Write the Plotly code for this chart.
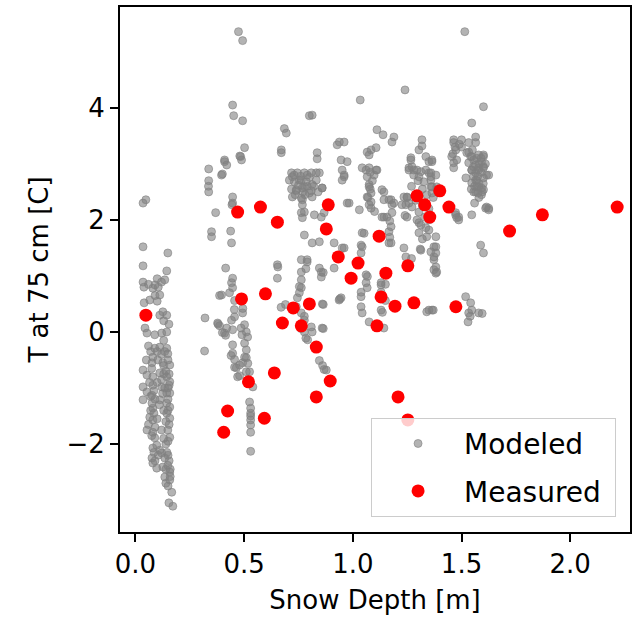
import plotly.graph_objects as go

# Measured (red) points: snow depth [m], temperature at 75 cm [C]
measured_depth = [0.048, 0.470, 0.575, 0.653, 0.488, 0.598, 0.520, 0.424, 0.406, 0.593,
                  0.639, 0.676, 0.726, 0.763, 0.800, 0.832, 0.832, 0.896, 0.887, 0.878,
                  0.933, 0.992, 1.024, 1.111, 1.130, 1.121, 1.152, 1.194, 1.208, 1.253,
                  1.253, 1.281, 1.295, 1.331, 1.354, 1.400, 1.442, 1.474, 1.721, 1.872, 2.216]
measured_temp = [0.30, 2.14, 2.23, 1.96, 0.59, 0.68, -0.89, -1.41, -1.79, -1.54,
                 -0.73, 0.16, 0.43, 0.11, 0.50, -0.27, -1.16, -0.875, 2.27, 1.84,
                 1.34, 0.96, 1.23, 0.11, 0.625, 1.71, 1.05, 0.46, -1.16, -1.57,
                 1.18, 0.52, 2.43, 2.27, 2.05, 2.52, 2.23, 0.45, 1.80, 2.09, 2.23]

# Modeled (gray) points, read cluster by cluster
modeled_pairs_a = [
    (0.035,2.30),(0.048,2.36),(0.035,1.52),(0.149,1.41),(0.035,1.18),(0.144,1.09),(0.135,0.93),
    (0.035,0.89),(0.039,0.80),(0.08,0.78),(0.12,0.89),(0.09,0.84),(0.105,0.80),(0.112,0.66),
    (0.066,0.57),(0.04,0.52),(0.126,0.36),(0.112,0.30),(0.144,0.30),(0.154,0.14),(0.044,0.07),
    (0.053,-0.02),(0.089,-0.05),(0.121,-0.02),(0.144,0.0),(0.089,-0.29),(0.112,-0.27),(0.144,-0.29),
    (0.080,-0.45),(0.149,-0.39),(0.076,-0.55),(0.103,-0.50),(0.126,-0.55),(0.158,-0.59),(0.035,-0.68),
    (0.053,-0.77),(0.08,-0.80),(0.112,-0.73),(0.144,-0.80),(0.158,-0.89),(0.035,-0.98),(0.053,-1.07),
    (0.08,-0.95),(0.076,-1.13),(0.121,-0.98),(0.144,-1.09),(0.158,-1.09),(0.035,-1.21),(0.076,-1.27),
    (0.08,-1.36),(0.112,-1.21),(0.144,-1.27),(0.158,-1.34),(0.066,-1.52),(0.08,-1.57),(0.144,-1.45),
    (0.158,-1.54),(0.053,-1.75),(0.08,-1.79),(0.149,-1.75),(0.158,-1.88),(0.089,-1.89),(0.098,-2.02),
    (0.08,-2.07),(0.112,-2.11),(0.121,-2.16),(0.135,-2.25),(0.076,-2.25),(0.08,-2.34),(0.098,-2.43),
    (0.126,-2.41),(0.149,-2.38),(0.158,-2.50),(0.135,-2.59),(0.158,-2.64),(0.167,-2.86),(0.154,-3.05),
    (0.172,-3.11),(0.065,-0.9),(0.07,-1.4),(0.06,-1.65),(0.13,-0.6),(0.135,-1.0),(0.13,-1.4),
    (0.14,-1.6),(0.13,-1.9),(0.14,-2.0),(0.15,-2.2),(0.12,-0.4),(0.14,-0.7),(0.15,-1.2),(0.1,-0.9),
    (0.09,-1.7),(0.06,0.85),(0.1,0.55),(0.13,-0.15),(0.1,-0.35),(0.12,-0.85),(0.155,-0.95),
    (0.09,-1.2),(0.085,-2.15),(0.14,-2.7),(0.16,-2.45),
    (0.07,-0.35),(0.075,-0.65),(0.085,-1.05),(0.07,-1.15),(0.085,-1.45),(0.075,-1.85),(0.09,-2.3),
    (0.105,-2.2),(0.11,-1.3),(0.1,-1.55),(0.12,-1.75),(0.125,-1.1),(0.13,-0.75),(0.135,-0.35),
    (0.15,-0.5),(0.155,-0.75),(0.15,-1.0),(0.15,-1.4),(0.155,-1.65),(0.15,-1.95),(0.145,-2.15),
    (0.155,-2.3),(0.14,-2.45),(0.16,-2.58),(0.15,-2.75),(0.06,-0.25),(0.05,-0.5),(0.09,0.65),
    (0.1,0.95),(0.13,0.2),
]
modeled_pairs_b = [
    (0.474,5.36),(0.493,5.20),(0.447,4.05),(0.452,3.86),(0.493,3.77),(0.502,3.29),(0.484,3.13),
    (0.488,3.07),(0.41,3.04),(0.42,2.98),(0.337,2.91),(0.337,2.70),(0.337,2.50),(0.396,2.80),
    (0.447,2.41),(0.447,2.30),(0.369,2.13),(0.35,1.79),(0.35,1.70),(0.438,1.80),(0.442,1.59),
    (0.415,1.14),(0.447,0.96),(0.442,0.88),(0.447,0.79),(0.396,0.66),(0.433,0.70),(0.32,0.25),
    (0.378,0.16),(0.41,-0.02),(0.442,0.21),(0.456,0.27),(0.447,0.04),(0.42,0.07),(0.493,0.34),
    (0.502,0.13),(0.51,0.0),(0.516,-0.09),(0.318,-0.34),(0.447,-0.23),(0.447,-0.38),(0.502,-0.2),
    (0.51,-0.32),(0.502,-0.45),(0.456,-0.63),(0.479,-0.59),(0.493,-0.55),(0.525,-0.71),(0.47,-0.80),
    (0.54,-0.98),(0.53,-1.36),(0.53,-1.45),(0.53,-1.57),(0.53,-1.66),(0.53,-1.79),(0.53,-2.13),
    (0.456,0.56),(0.494,0.42),(0.486,0.07),(0.44,-0.42),(0.456,-0.49),(0.51,-0.46),(0.517,-0.56),
    (0.464,-0.64),(0.479,-0.78),(0.51,-0.71),(0.525,-0.88),(0.38,0.14),(0.387,0.11),(0.40,-0.01),
    (0.415,-0.06),(0.387,0.65),(0.444,2.27),(0.41,3.07),(0.40,2.82),(0.48,3.14),(0.336,2.6),
    (0.53,-1.5),(0.525,-1.25),(0.455,0.4),(0.49,-0.05),
    (0.685,3.63),(0.694,3.55),(0.671,3.25),(0.671,3.20),(0.653,1.20),(0.653,0.96),(0.655,1.16),
    (0.69,0.49),(0.67,0.44),(0.74,0.45),(0.763,0.34),
]
modeled_pairs_c = [
    (0.80,3.86),(0.813,3.87),(0.836,3.2),(0.836,3.09),(0.718,2.84),(0.745,2.84),(0.777,2.84),
    (0.809,2.84),(0.846,2.84),(0.708,2.71),(0.731,2.68),(0.763,2.71),(0.786,2.68),(0.832,2.71),
    (0.718,2.55),(0.74,2.52),(0.768,2.57),(0.809,2.52),(0.859,2.57),(0.722,2.41),(0.763,2.39),
    (0.8,2.48),(0.813,2.41),(0.768,2.27),(0.777,2.14),(0.823,2.09),(0.855,2.05),(0.768,2.04),
    (0.777,1.73),(0.813,1.59),(0.914,1.59),(0.763,1.29),(0.79,1.29),(0.846,1.14),(0.722,2.77),
    (0.754,2.71),(0.79,2.8),(0.832,2.84),(0.74,2.54),(0.777,2.59),(0.813,2.63),(0.859,2.57),
    (0.768,2.36),(0.763,2.13),(0.868,2.13),(0.79,1.25),(0.763,1.07),(0.763,0.93),(0.763,0.79),
    (0.745,0.61),(0.855,1.07),(0.855,0.98),(0.914,1.14),(0.946,0.61),(0.86,0.5),(0.754,0.81),
    (0.754,0.7),(0.784,1.13),(0.846,1.61),(0.864,1.06),(0.864,0.49),(0.777,0.28),(0.777,0.21),
    (0.762,0.06),(0.777,0.0),(0.784,-0.11),(0.792,-0.14),(0.864,0.06),(0.809,0.09),(0.813,0.0),
    (0.859,0.07),(0.846,-0.51),(0.861,-0.60),(0.868,-0.67),(0.878,-0.68),(0.937,0.57),
    (0.73,2.8),(0.76,2.78),(0.8,2.76),(0.82,2.6),(0.79,2.6),(0.75,2.62),(0.78,2.45),(0.84,2.5),
    (0.735,2.45),(0.77,2.5),
]
modeled_pairs_d = [
    (0.938,3.39),(0.96,3.39),(0.928,3.34),(0.946,3.07),(0.974,3.04),(0.974,2.3),(1.034,4.14),
    (1.111,3.61),(1.139,3.52),(1.189,3.48),(1.18,3.39),(1.066,3.21),(1.084,3.25),(1.107,3.29),
    (1.043,2.93),(1.075,2.93),(1.107,2.89),(1.098,2.80),(0.96,2.80),(0.951,2.71),(0.983,2.3),
    (1.03,2.18),(1.075,2.63),(1.084,2.48),(1.084,2.32),(1.084,2.21),(1.143,2.5),(1.166,2.36),
    (1.189,2.30),(1.143,2.05),(1.18,2.13),(1.176,1.88),(1.166,1.79),(1.176,1.59),(1.043,1.77),
    (0.96,1.5),(1.038,1.55),(1.038,1.41),(1.061,1.02),(1.066,0.79),(1.038,0.63),(1.038,0.45),
    (1.043,0.34),(1.13,0.84),(1.13,0.71),(1.13,0.39),(1.075,3.16),(1.061,2.89),(1.111,2.89),
    (0.951,2.89),(0.96,2.77),(1.066,2.77),(1.075,2.59),(1.066,2.41),(1.075,2.27),(1.134,2.54),
    (1.143,2.36),(1.176,2.36),(1.18,2.27),(1.226,2.27),(1.134,2.05),(1.157,2.05),(1.166,1.59),
    (1.043,1.52),(0.951,1.5),(1.061,0.88),(1.13,0.88),(1.075,0.18),(1.143,0.07),(1.038,0.71),
    (1.067,0.99),(1.15,0.85),(1.15,0.56),(1.136,0.35),(1.17,1.98),(1.17,1.69),(0.94,0.59),
    (1.052,1.76),(1.08,2.85),(1.09,2.7),(1.08,2.55),(1.07,2.4),(1.1,2.15),
]
modeled_pairs_e = [
    (1.24,4.32),(1.318,3.43),(1.304,3.25),(1.336,3.13),(1.364,3.04),(1.267,3.07),(1.258,2.89),
    (1.281,2.89),(1.313,2.86),(1.35,2.84),(1.359,2.71),(1.364,2.59),(1.386,2.54),(1.249,2.41),
    (1.258,2.30),(1.249,2.05),(1.304,1.95),(1.336,1.86),(1.304,1.77),(1.34,1.70),(1.382,1.70),
    (1.373,1.52),(1.373,1.34),(1.313,1.46),(1.244,1.34),(1.373,1.29),(1.373,1.11),(1.318,3.32),
    (1.267,3.11),(1.258,2.93),(1.272,2.95),(1.295,2.89),(1.35,3.04),(1.382,2.80),(1.359,2.77),
    (1.336,2.89),(1.304,2.77),(1.327,2.68),(1.359,2.59),(1.364,2.48),(1.386,2.59),(1.235,2.41),
    (1.244,2.27),(1.272,2.23),(1.304,2.14),(1.295,2.0),(1.313,1.91),(1.35,1.82),(1.382,1.52),
    (1.382,1.41),(1.382,1.16),(1.382,1.05),(1.235,1.5),(1.364,0.39),(1.34,0.36),(1.35,0.39),
    (1.37,0.39),(1.27,1.31),(1.31,1.48),(1.32,1.66),(1.364,3.07),(1.359,2.84),(1.35,2.0),
    (1.359,1.43),(1.386,1.07),(1.24,2.08),(1.25,2.4),
    (1.28,2.8),(1.3,2.7),(1.32,2.55),(1.34,2.45),(1.29,2.35),(1.32,2.25),(1.33,2.05),(1.35,2.2),
    (1.37,2.4),(1.27,2.6),
]
modeled_pairs_f = [
    (1.515,5.36),(1.601,4.02),(1.547,3.73),(1.565,3.48),(1.565,3.38),(1.464,3.43),(1.464,3.38),
    (1.5,3.43),(1.533,3.38),(1.455,3.13),(1.464,3.02),(1.464,2.93),(1.478,3.07),(1.524,3.20),
    (1.542,3.13),(1.556,3.07),(1.533,3.02),(1.547,2.89),(1.565,2.84),(1.579,2.93),(1.601,3.13),
    (1.601,2.95),(1.615,2.80),(1.57,2.71),(1.579,2.59),(1.601,2.54),(1.556,2.50),(1.611,2.21),
    (1.625,2.18),(1.473,2.09),(1.487,2.0),(1.547,2.09),(1.588,1.55),(1.601,1.41),(1.519,0.63),
    (1.542,0.52),(1.547,0.39),(1.533,0.34),(1.579,0.34),(1.533,3.21),(1.547,3.13),(1.579,3.16),
    (1.601,3.16),(1.592,3.04),(1.565,2.98),(1.547,2.89),(1.579,2.89),(1.601,2.93),(1.625,2.80),
    (1.601,2.75),(1.565,2.71),(1.547,2.66),(1.57,2.59),(1.592,2.57),(1.565,2.50),(1.592,2.45),
    (1.615,2.23),(1.625,2.21),(1.487,2.05),(1.478,2.04),(1.473,2.13),(1.53,0.18),(1.54,0.28),
    (1.595,0.33),(1.474,3.25),(1.52,2.75),(1.56,2.3),(1.58,2.4),
    (1.55,3.25),(1.57,3.1),(1.59,3.1),(1.58,3.0),(1.555,2.95),(1.61,3.0),(1.59,2.85),(1.575,2.78),
    (1.555,2.78),(1.6,2.65),(1.58,2.65),(1.56,2.6),(1.595,2.5),(1.575,2.48),(1.545,2.55),(1.5,3.3),
    (1.47,3.3),(1.46,3.18),(1.49,3.35),
]

modeled = (modeled_pairs_a + modeled_pairs_b + modeled_pairs_c +
           modeled_pairs_d + modeled_pairs_e + modeled_pairs_f)
modeled_depth = [p[0] for p in modeled]
modeled_temp = [p[1] for p in modeled]

FONT = "DejaVu Sans"
FS_TICK = 26
FS_TITLE = 26
FS_LEG = 28
NBSP = "\u00a0"

fig = go.Figure()
fig.add_trace(go.Scatter(
    x=modeled_depth, y=modeled_temp, mode="markers", name="Modeled" + NBSP,
    legendgroup="a",
    marker=dict(size=8, color="rgba(128,128,128,0.6)",
                line=dict(width=1, color="rgba(128,128,128,0.6)")),
))
fig.add_trace(go.Scatter(
    x=measured_depth, y=measured_temp, mode="markers", name="Measured" + NBSP,
    legendgroup="b",
    marker=dict(size=13, color="red", line=dict(width=0)),
))

fig.update_layout(
    width=633, height=620,
    margin=dict(l=120, r=1, t=7, b=88),
    paper_bgcolor="white", plot_bgcolor="white",
    font=dict(family=FONT, size=FS_TICK, color="black"),
    showlegend=True,
    legend=dict(
        x=0.9727, y=0.029, xanchor="right", yanchor="bottom",
        bgcolor="rgba(255,255,255,0.8)", bordercolor="#cccccc", borderwidth=1,
        font=dict(family=FONT, size=FS_LEG), itemwidth=82,
        traceorder="grouped", tracegroupgap=8,
    ),
    xaxis=dict(
        range=[-0.071, 2.275], tickmode="array",
        tickvals=[0.0, 0.5, 1.0, 1.5, 2.0],
        ticktext=["0.0", "0.5", "1.0", "1.5", "2.0"],
        showgrid=False, zeroline=False,
        showline=True, linecolor="black", linewidth=2, mirror=True,
        ticks="outside", ticklen=8, tickwidth=2, tickcolor="black",
        title=dict(text="Snow Depth [m]", font=dict(family=FONT, size=FS_TITLE), standoff=13),
    ),
    yaxis=dict(
        range=[-3.57, 5.80], tickmode="array",
        tickvals=[-2, 0, 2, 4],
        showgrid=False, zeroline=False,
        showline=True, linecolor="black", linewidth=2, mirror=True,
        ticks="outside", ticklen=8, tickwidth=2, tickcolor="black",
        title=dict(text="T at 75 cm [C]", font=dict(family=FONT, size=FS_TITLE), standoff=10),
    ),
)

fig.write_html("out.html")
